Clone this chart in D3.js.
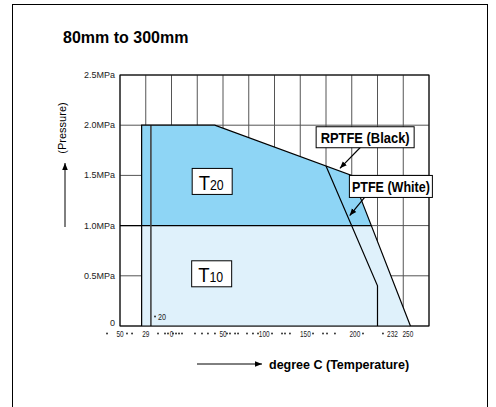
<!DOCTYPE html>
<html>
<head>
<meta charset="utf-8">
<script src="https://cdn.jsdelivr.net/npm/d3@7"></script>
<style>
  body { margin: 0; background: #fff; }
  text { font-family: "Liberation Sans", Arial, sans-serif; }
</style>
</head>
<body>
<div id="chart"></div>
<script>
// envelope of the seat rating (temperature C, pressure MPa)
var envTemp = [-29, -29, 42, 175, 232];
var envPress = [0, 2.0, 2.0, 1.5, 0];
// RPTFE (black) limit line
var rptfeTemp = [150, 200, 200];
var rptfePress = [1.594, 0.4, 0];
// -20 line
var lowTemp = -20;
var lowPress = [0, 2.0];
// T20 / T10 split
var splitPress = 1.0;

// axis ticks
var yTicks = [0, 0.5, 1.0, 1.5, 2.0, 2.5];
var yTickText = ["0", "0.5MPa", "1.0MPa", "1.5MPa", "2.0MPa", "2.5MPa"];
var xGrid = d3.range(-50, 251, 25);
var xTickText = ["50", "29", "0", "50", "100", "150", "200", "232", "250"];
var xTickAt = [-50, -25, 0, 50, 90, 130, 178, 214.5, 229.5];
var axisDots = [-62.6, -43.2, -38.3, -13.1, -6.3, -3.4, 1.5, 4.4, 7.3, 10.2, 22.8, 29.6, 35.4, 42.2,
    53.9, 56.8, 61.7, 64.6, 73.3, 79.1, 84, 97.6, 107.3, 110.2, 115, 137.4, 147.1, 151, 158.7, 185.9, 205.3];

var svgWidth = 496;
var svgHeight = 407;

var svg = d3.select("#chart")
    .append("svg")
    .attr("width", svgWidth)
    .attr("height", svgHeight);

var defs = svg.append("defs");
defs.append("marker")
    .attr("id", "head")
    .attr("viewBox", "0 0 10 10")
    .attr("refX", 10)
    .attr("refY", 5)
    .attr("markerWidth", 7)
    .attr("markerHeight", 7)
    .attr("markerUnits", "userSpaceOnUse")
    .attr("orient", "auto")
    .append("path")
    .attr("d", "M0,1 L10,5 L0,9 Z")
    .attr("fill", "#000");

// outer frame
svg.append("rect")
    .attr("x", 12.5).attr("y", 4.5)
    .attr("width", 475).attr("height", 420)
    .attr("fill", "none").attr("stroke", "#000").attr("stroke-width", 1);

var x = d3.scaleLinear().domain([-50, 250]).range([120, 429]);
var y = d3.scaleLinear().domain([0, 2.5]).range([326, 75]);

// title
svg.append("text")
    .attr("x", 63).attr("y", 43)
    .attr("font-size", 16).attr("font-weight", "bold")
    .text("80mm to 300mm");

// grid
var grid = svg.append("g").attr("stroke", "#555").attr("stroke-width", 1);
grid.selectAll(".vg").data(xGrid).enter().append("line")
    .attr("x1", d => x(d)).attr("x2", d => x(d))
    .attr("y1", y(0)).attr("y2", y(2.5));
grid.selectAll(".hg").data(yTicks).enter().append("line")
    .attr("x1", x(-50)).attr("x2", x(250))
    .attr("y1", d => y(d)).attr("y2", d => y(d));

// fills
var envPts = envTemp.map((t, i) => [x(t), y(envPress[i])]);
var line = d3.line();

defs.append("clipPath").attr("id", "upper")
    .append("rect")
    .attr("x", 0).attr("y", 0)
    .attr("width", svgWidth).attr("height", y(splitPress));

svg.append("path")
    .attr("d", line(envPts) + "Z")
    .attr("fill", "#dff1fb");
svg.append("path")
    .attr("d", line(envPts) + "Z")
    .attr("fill", "#8ed5f5")
    .attr("clip-path", "url(#upper)");

// where the split meets the falling edge
var k = envPress.length - 1;
var fr = (splitPress - envPress[k - 1]) / (envPress[k] - envPress[k - 1]);
var splitEnd = envTemp[k - 1] + fr * (envTemp[k] - envTemp[k - 1]);

svg.append("line")
    .attr("x1", x(-50)).attr("x2", x(splitEnd))
    .attr("y1", y(splitPress)).attr("y2", y(splitPress))
    .attr("stroke", "#000").attr("stroke-width", 1.2);

// -20 line
svg.append("line")
    .attr("x1", x(lowTemp)).attr("x2", x(lowTemp))
    .attr("y1", y(lowPress[0])).attr("y2", y(lowPress[1]))
    .attr("stroke", "#444").attr("stroke-width", 1.6);

// envelope outline
svg.append("path")
    .attr("d", line(envPts))
    .attr("fill", "none").attr("stroke", "#000").attr("stroke-width", 1.2);

// RPTFE line
svg.append("path")
    .attr("d", line(rptfeTemp.map((t, i) => [x(t), y(rptfePress[i])])))
    .attr("fill", "none").attr("stroke", "#000").attr("stroke-width", 1.2);

// plot border
svg.append("rect")
    .attr("x", x(-50)).attr("y", y(2.5))
    .attr("width", x(250) - x(-50)).attr("height", y(0) - y(2.5))
    .attr("fill", "none").attr("stroke", "#000").attr("stroke-width", 1);

// y tick labels
svg.selectAll(".yt").data(yTicks).enter().append("text")
    .attr("x", 115)
    .attr("y", d => d === 0 ? y(d) : y(d) + 3)
    .attr("text-anchor", "end")
    .attr("font-size", 9).attr("fill", "#222")
    .text((d, i) => yTickText[i]);

// x tick labels (condensed, with the stray dots of the original)
svg.selectAll(".xt").data(xTickAt).enter().append("text")
    .attr("x", d => x(d))
    .attr("y", 337)
    .attr("text-anchor", "middle")
    .attr("font-size", 9).attr("fill", "#222")
    .attr("textLength", (d, i) => xTickText[i].length * 3.6)
    .attr("lengthAdjust", "spacingAndGlyphs")
    .text((d, i) => xTickText[i]);
svg.selectAll(".xd").data(axisDots).enter().append("circle")
    .attr("cx", d => x(d)).attr("cy", 333.5)
    .attr("r", 0.9).attr("fill", "#222");

// -20 note
svg.append("circle").attr("cx", x(-16)).attr("cy", 316.5).attr("r", 0.9).attr("fill", "#222");
svg.append("text")
    .attr("x", x(-13)).attr("y", 320)
    .attr("font-size", 9).attr("fill", "#222")
    .attr("textLength", 8).attr("lengthAdjust", "spacingAndGlyphs")
    .text("20");

// T20 / T10 boxes
function tBox(t, p, sub) {
    var cx = x(t), cy = y(p);
    svg.append("rect")
        .attr("x", cx - 20).attr("y", cy - 13)
        .attr("width", 40).attr("height", 26)
        .attr("fill", "#fff").attr("stroke", "#000").attr("stroke-width", 1);
    var tx = svg.append("text")
        .attr("x", cx - 13.5).attr("y", cy + 8.5)
        .attr("font-size", 21)
        .attr("textLength", 25).attr("lengthAdjust", "spacingAndGlyphs");
    tx.append("tspan").text("T");
    tx.append("tspan").attr("font-size", 14).text(sub);
}
tBox(39.5, 1.44, "20");
tBox(39, 0.52, "10");

// callouts
function callout(t, p, w, h, tw, label, fromT, fromP, toT, toP) {
    var cx = x(t), cy = y(p);
    svg.append("line")
        .attr("x1", x(fromT)).attr("y1", y(fromP))
        .attr("x2", x(toT)).attr("y2", y(toP))
        .attr("stroke", "#000").attr("stroke-width", 1.2)
        .attr("marker-end", "url(#head)");
    svg.append("rect")
        .attr("x", cx - w / 2).attr("y", cy - h / 2)
        .attr("width", w).attr("height", h)
        .attr("fill", "#fff").attr("stroke", "#000").attr("stroke-width", 1);
    svg.append("text")
        .attr("x", cx).attr("y", cy + 5.5)
        .attr("text-anchor", "middle")
        .attr("font-size", 15.5).attr("font-weight", "bold")
        .attr("textLength", tw).attr("lengthAdjust", "spacingAndGlyphs")
        .text(label);
}
callout(188, 1.88, 98, 21, 89, "RPTFE (Black)", 192, 1.87, 163.5, 1.57);
callout(213, 1.39, 83, 22, 78, "PTFE (White)", 197, 1.40, 173, 1.10);

// y axis title
svg.append("text")
    .attr("transform", "translate(66,128) rotate(-90)")
    .attr("text-anchor", "middle")
    .attr("font-size", 11)
    .text("(Pressure)");
svg.append("line")
    .attr("x1", 65).attr("y1", 227).attr("x2", 65).attr("y2", 163)
    .attr("stroke", "#000").attr("stroke-width", 1)
    .attr("marker-end", "url(#head)");

// x axis title
svg.append("line")
    .attr("x1", 197).attr("y1", 364).attr("x2", 262).attr("y2", 364)
    .attr("stroke", "#000").attr("stroke-width", 1)
    .attr("marker-end", "url(#head)");
svg.append("text")
    .attr("x", 269).attr("y", 368.5)
    .attr("font-size", 12.5).attr("font-weight", "bold")
    .text("degree C (Temperature)");
</script>
</body>
</html>
